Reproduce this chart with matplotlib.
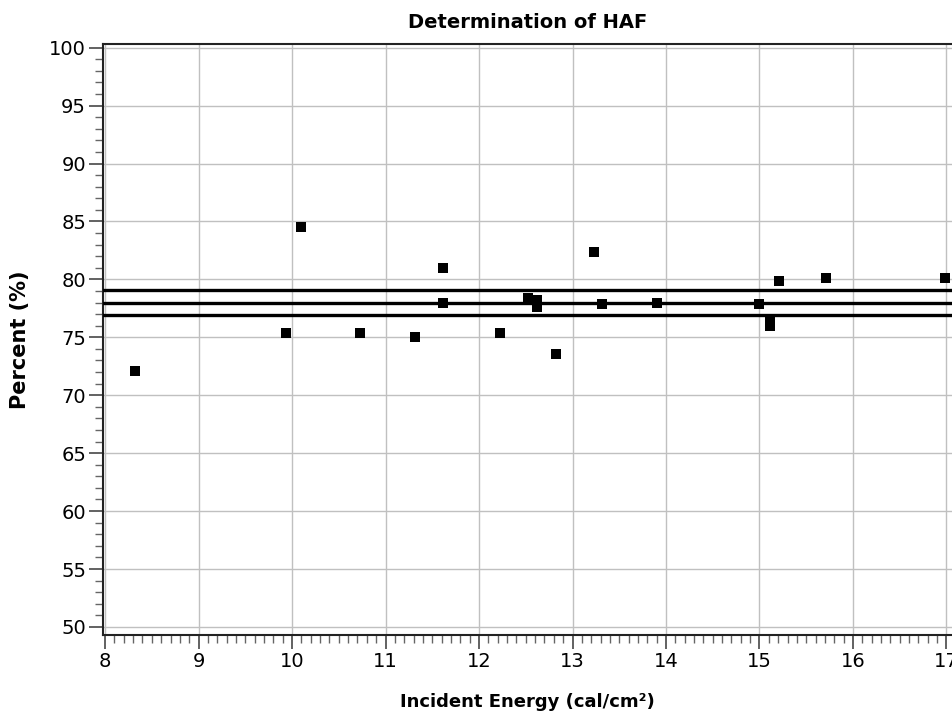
import matplotlib
matplotlib.use("Agg")
import matplotlib.pyplot as plt
from matplotlib.ticker import MultipleLocator

# Data
energy = [8.32, 9.93, 10.10, 10.73, 11.31, 11.61, 11.61, 12.22, 12.52, 12.62, 12.62,
          12.82, 13.23, 13.32, 13.90, 15.00, 15.11, 15.11, 15.21, 15.71, 16.98]
percent = [72.1, 75.4, 84.5, 75.4, 75.0, 81.0, 78.0, 75.4, 78.4, 78.2, 77.6,
           73.55, 82.4, 77.9, 78.0, 77.9, 76.4, 76.0, 79.85, 80.1, 80.1]
hlines = [79.05, 77.93, 76.89]

x_ticks = list(range(8, 18))
y_ticks = list(range(50, 101, 5))

plt.rcParams['font.family'] = ['DejaVu Sans']

fig = plt.figure(figsize=(9.53, 7.14), dpi=100)
ax = fig.add_axes([0.1078, 0.1106, 0.8922, 0.8284])

for h in hlines:
    ax.axhline(h, color='black', lw=2.4, zorder=3)

ax.scatter(energy, percent, marker='s', s=50, color='black', zorder=4, linewidths=0)

ax.set_xlim(7.975, 17.07)
ax.set_ylim(49.3, 100.36)
ax.set_xticks(x_ticks)
ax.set_yticks(y_ticks)
ax.xaxis.set_minor_locator(MultipleLocator(0.1))
ax.yaxis.set_minor_locator(MultipleLocator(1))

ax.grid(True, which='major', color='#c0c0c0', lw=1)
ax.set_axisbelow(True)

ax.tick_params(axis='both', which='major', direction='out', length=10, width=1.3,
               color='#555555', labelsize=14, labelcolor='black', pad=2)
ax.tick_params(axis='both', which='minor', direction='out', length=6, width=1,
               color='#666666')

for side in ['left', 'bottom', 'top']:
    ax.spines[side].set_color('#222222')
    ax.spines[side].set_linewidth(1.5)
ax.spines['right'].set_visible(False)

ax.set_title('Determination of HAF', fontsize=14, fontweight='bold', pad=11)
ax.set_xlabel('Incident Energy (cal/cm²)', fontsize=13, fontweight='bold', labelpad=16)
ax.set_ylabel('Percent (%)', fontsize=15, fontweight='bold', labelpad=14)

fig.savefig('out.png', dpi=100)
